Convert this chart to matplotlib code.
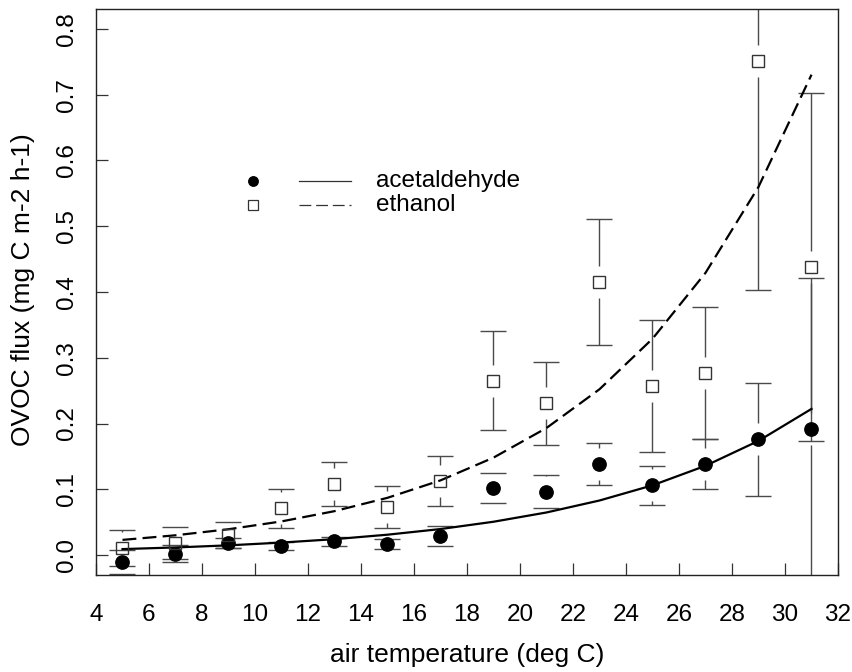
import matplotlib
matplotlib.use("Agg")
import matplotlib.pyplot as plt

plt.rcParams['font.family'] = ['Liberation Sans', 'DejaVu Sans']
plt.rcParams['lines.scale_dashes'] = False

# ---- data ----
temp = [5, 7, 9, 11, 13, 15, 17, 19, 21, 23, 25, 27, 29, 31]

acet_mean = [-0.011, 0.002, 0.018, 0.014, 0.021, 0.017, 0.029, 0.102, 0.096, 0.138, 0.106, 0.139, 0.176, 0.192]
acet_se = [0.018, 0.013, 0.008, 0.006, 0.007, 0.008, 0.015, 0.023, 0.025, 0.032, 0.030, 0.038, 0.086, 0.229]

eth_mean = [0.011, 0.018, 0.030, 0.071, 0.108, 0.073, 0.112, 0.265, 0.231, 0.415, 0.257, 0.277, 0.751, 0.438]
eth_se = [0.027, 0.024, 0.020, 0.030, 0.034, 0.032, 0.038, 0.075, 0.063, 0.096, 0.101, 0.100, 0.348, 0.265]

acet_fit = [0.0090, 0.0115, 0.0147, 0.0189, 0.0241, 0.0309, 0.0395, 0.0506, 0.0647, 0.0829, 0.1060, 0.1357, 0.1736, 0.2222]
eth_fit = [0.0230, 0.0300, 0.0392, 0.0511, 0.0667, 0.0870, 0.1135, 0.1481, 0.1932, 0.2521, 0.3289, 0.4291, 0.5599, 0.7305]

x_ticks = [4, 6, 8, 10, 12, 14, 16, 18, 20, 22, 24, 26, 28, 30, 32]
y_ticks = [0.0, 0.1, 0.2, 0.3, 0.4, 0.5, 0.6, 0.7, 0.8]
y_ticklabels = ["0.0", "0.1", "0.2", "0.3", "0.4", "0.5", "0.6", "0.7", "0.8"]
series_names = ["acetaldehyde", "ethanol"]
x_label = "air temperature (deg C)"
y_label = "OVOC flux (mg C m-2 h-1)"

# ---- figure ----
W, H, DPI = 853, 672, 100
fig = plt.figure(figsize=(W / DPI, H / DPI), dpi=DPI)
ax_l, ax_r, ax_t, ax_b = 96, 838, 9, 575
ax = fig.add_axes([ax_l / W, (H - ax_b) / H, (ax_r - ax_l) / W, (ax_b - ax_t) / H])

xlim = (4, 32)
ylim = (-0.0304, 0.8304)
ax.set_xlim(*xlim)
ax.set_ylim(*ylim)

px_per_y = (ax_b - ax_t) / (ylim[1] - ylim[0])
px_per_x = (ax_r - ax_l) / (xlim[1] - xlim[0])
gap = 16 / px_per_y
cap = 13 / px_per_x

bar_color = '#4a4a4a'


def errbars(xs, ms, ses):
    for x, m, s in zip(xs, ms, ses):
        lo, hi = m - s, m + s
        if s > gap:
            ax.vlines(x, m + gap, hi, color=bar_color, lw=1.0, zorder=2)
            ax.vlines(x, lo, m - gap, color=bar_color, lw=1.0, zorder=2)
        ax.hlines([lo, hi], x - cap, x + cap, color=bar_color, lw=1.0, zorder=2)


errbars(temp, eth_mean, eth_se)
errbars(temp, acet_mean, acet_se)

ax.plot(temp, acet_fit, color='black', lw=1.6, zorder=3)
ax.plot(temp, eth_fit, color='black', lw=1.6, dashes=(10, 4.5), zorder=3)

ax.plot(temp, acet_mean, 'o', color='black', ms=9.6, zorder=4)
ax.plot(temp, eth_mean, 's', mfc='none', mec='#333333', mew=1.0, ms=9.2, zorder=4)

# ---- legend (drawn like R's legend) ----
lx_marker, lx_l0, lx_l1, lx_text = 0.212, 0.273, 0.343, 0.377
ly = [0.696, 0.654]
ax.plot([lx_marker], [ly[0]], 'o', color='black', ms=6.8, transform=ax.transAxes)
ax.plot([lx_marker], [ly[1]], 's', mfc='none', mec='#333333', mew=0.9, ms=6.5, transform=ax.transAxes)
ax.plot([lx_l0, lx_l1], [ly[0], ly[0]], color='#333333', lw=0.9, transform=ax.transAxes)
ax.plot([lx_l0, lx_l1], [ly[1], ly[1]], color='#333333', lw=0.9, dashes=(8.5, 3.5), transform=ax.transAxes)
for y, name in zip(ly, series_names):
    ax.text(lx_text, y, name, transform=ax.transAxes, fontsize=17.5, va='center', ha='left')

# ---- axes styling ----
ax.set_xticks(x_ticks)
ax.set_xticklabels([str(v) for v in x_ticks])
ax.set_yticks(y_ticks)
ax.set_yticklabels(y_ticklabels, rotation=90, va='center')
ax.tick_params(axis='both', direction='in', length=8.6, width=0.9, color='#333333', labelsize=17.5)
ax.tick_params(axis='x', pad=21)
ax.tick_params(axis='y', pad=13)
for sp in ax.spines.values():
    sp.set_linewidth(1.0)
    sp.set_color('#222222')

fig.text((ax_l + ax_r) / 2 / W, 1 - 655 / H, x_label, ha='center', va='center', fontsize=19)
fig.text(23 / W, 1 - 290 / H, y_label, ha='center', va='center', rotation=90, fontsize=19)

fig.savefig("out.png", dpi=DPI)
